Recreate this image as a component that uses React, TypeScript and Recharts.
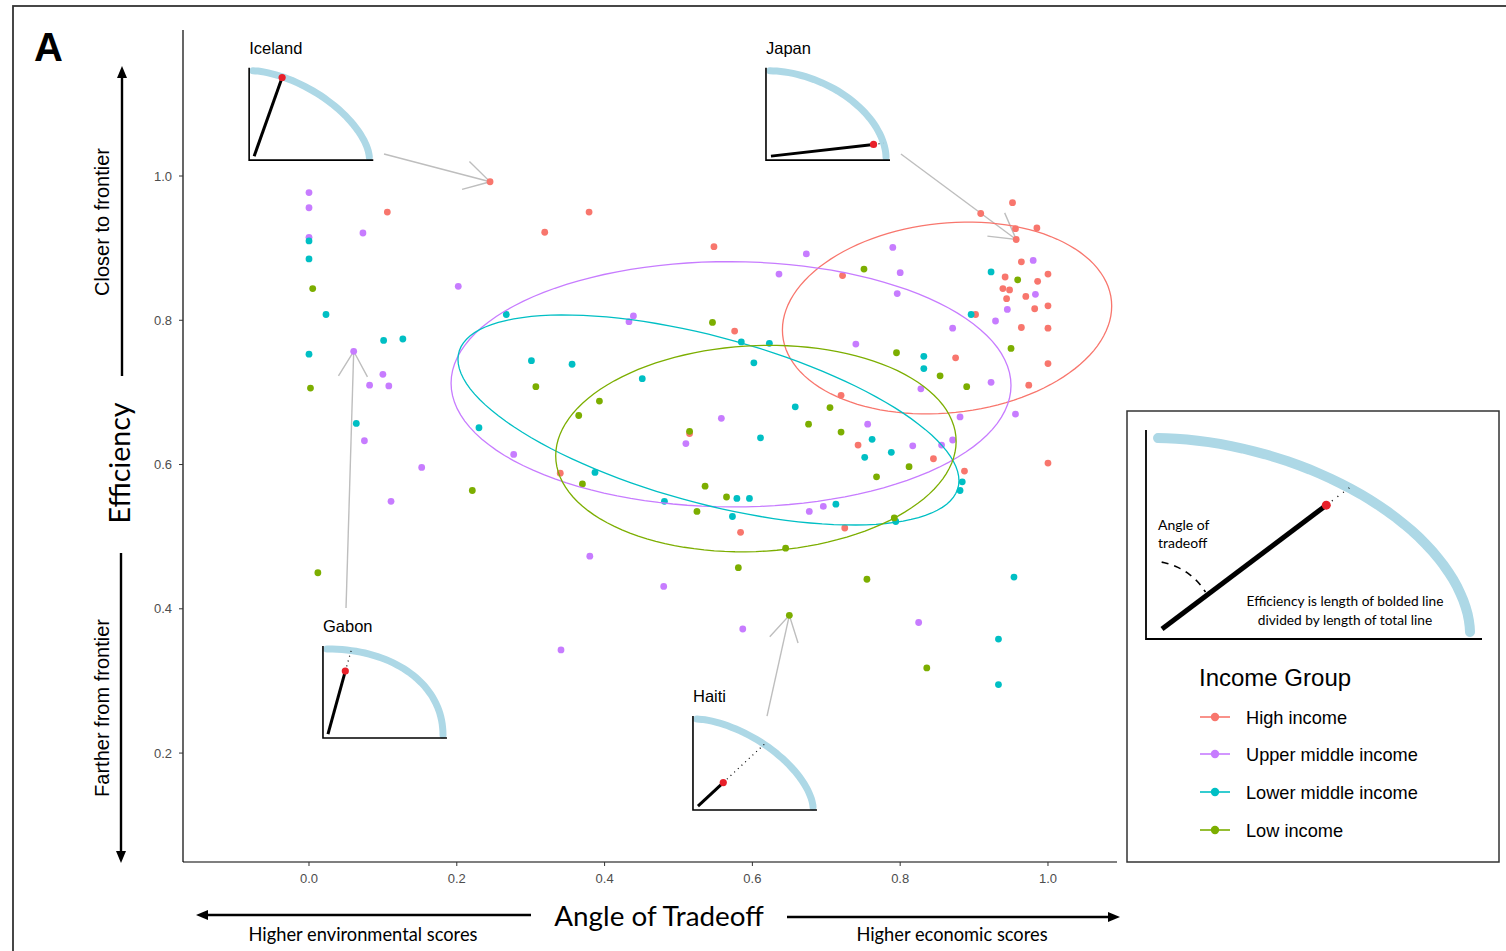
import React from "react";
import {
  ScatterChart,
  Scatter,
  XAxis,
  YAxis,
  ReferenceLine,
  ReferenceArea,
} from "recharts";

const GROUPS = ["High income", "Upper middle income", "Lower middle income", "Low income"];
const COLORS = ["#F8766D", "#C77CFF", "#00BFC4", "#7CAE00"];

const X_TICKS = [0, 0.2, 0.4, 0.6, 0.8, 1.0];
const Y_TICKS = [0.2, 0.4, 0.6, 0.8, 1.0];
const X_DOMAIN = [-0.1705, 1.0934];
const Y_DOMAIN = [0.049, 1.2024];
const ELLIPSE_LEVEL = 0.5;

type Pt = [number, number];

// highlighted countries
const ICELAND: Pt = [0.245, 0.992];
const JAPAN: Pt = [0.957, 0.912];
const GABON: Pt = [0.0605, 0.757];
const HAITI: Pt = [0.65, 0.391];

const highIncome: Pt[] = [
  [0.106, 0.95], ICELAND, [0.319, 0.922], [0.379, 0.95], [0.548, 0.902], [0.576, 0.785],
  [0.34, 0.588], [0.515, 0.643], [0.584, 0.506], [0.722, 0.862], [0.952, 0.963], [0.909, 0.948],
  [0.956, 0.927], [0.985, 0.928], JAPAN, [0.964, 0.881], [0.942, 0.86], [0.986, 0.854],
  [1.0, 0.864], [0.939, 0.844], [0.948, 0.842], [0.944, 0.83], [0.97, 0.833], [1.0, 0.82],
  [0.982, 0.816], [0.902, 0.808], [0.964, 0.79], [1.0, 0.789], [0.875, 0.748], [1.0, 0.74],
  [0.974, 0.71], [0.72, 0.696], [0.743, 0.627], [0.845, 0.608], [0.887, 0.591], [1.0, 0.602],
  [0.725, 0.512],
];

const upperMiddle: Pt[] = [
  [0.0, 0.977], [0.0, 0.956], [0.0, 0.915], [0.073, 0.921], [0.202, 0.847], GABON,
  [0.1, 0.725], [0.082, 0.71], [0.108, 0.709], [0.075, 0.633], [0.1525, 0.596], [0.111, 0.549],
  [0.277, 0.614], [0.439, 0.806], [0.433, 0.798], [0.636, 0.864], [0.558, 0.664], [0.51, 0.629],
  [0.38, 0.473], [0.48, 0.431], [0.341, 0.343], [0.587, 0.372], [0.673, 0.892], [0.79, 0.901],
  [0.8, 0.866], [0.796, 0.837], [0.98, 0.883], [0.983, 0.836], [0.945, 0.815], [0.929, 0.799],
  [0.871, 0.789], [0.74, 0.767], [0.923, 0.714], [0.828, 0.705], [0.881, 0.666], [0.956, 0.67],
  [0.756, 0.656], [0.817, 0.626], [0.856, 0.627], [0.871, 0.634], [0.677, 0.535], [0.696, 0.542],
  [0.825, 0.381],
];

const lowerMiddle: Pt[] = [
  [0.0, 0.91], [0.0, 0.885], [0.023, 0.808], [0.267, 0.808], [0.101, 0.772], [0.127, 0.774],
  [0.0, 0.753], [0.301, 0.744], [0.064, 0.657], [0.23, 0.651], [0.356, 0.739], [0.585, 0.77],
  [0.623, 0.768], [0.602, 0.741], [0.451, 0.719], [0.611, 0.637], [0.387, 0.589], [0.481, 0.549],
  [0.579, 0.553], [0.596, 0.553], [0.573, 0.528], [0.923, 0.867], [0.896, 0.808], [0.832, 0.75],
  [0.832, 0.733], [0.658, 0.68], [0.762, 0.635], [0.752, 0.61], [0.788, 0.617], [0.884, 0.576],
  [0.881, 0.564], [0.713, 0.545], [0.794, 0.521], [0.954, 0.444], [0.933, 0.358], [0.933, 0.295],
];

const lowIncome: Pt[] = [
  [0.005, 0.844], [0.002, 0.706], [0.012, 0.45], [0.221, 0.564], [0.307, 0.708], [0.546, 0.797],
  [0.393, 0.688], [0.365, 0.668], [0.515, 0.646], [0.37, 0.573], [0.536, 0.57], [0.565, 0.555],
  [0.525, 0.535], [0.645, 0.484], [0.581, 0.457], HAITI, [0.751, 0.871], [0.959, 0.856],
  [0.95, 0.761], [0.795, 0.755], [0.854, 0.723], [0.89, 0.708], [0.705, 0.679], [0.676, 0.656],
  [0.72, 0.645], [0.812, 0.597], [0.768, 0.583], [0.792, 0.526], [0.755, 0.441], [0.836, 0.318],
];

const SERIES = [highIncome, upperMiddle, lowerMiddle, lowIncome];

// inset pictures, placed in data units like annotation_custom
const INSETS = [
  { name: "Iceland", point: ICELAND, box: [-0.081, 0.087, 1.022, 1.15], from: [0.1015, 1.0305], angle: 20, n: 1.6 },
  { name: "Japan", point: JAPAN, box: [0.6184, 0.7862, 1.022, 1.15], from: [0.801, 1.0305], angle: 83, n: 1.8 },
  { name: "Gabon", point: GABON, box: [0.0189, 0.1867, 0.2208, 0.3484], from: [0.0501, 0.401], angle: 16, n: 2.1 },
  { name: "Haiti", point: HAITI, box: [0.5196, 0.6874, 0.121, 0.2513], from: [0.6198, 0.2513], angle: 47, n: 1.6 },
];

const ARIAL = "'Liberation Sans', Arial, sans-serif";
const CALIBRI = "Lato, 'Open Sans', sans-serif";

// MASS::cov.trob (nu = 5), as used by stat_ellipse(type = "t")
function covTrob(pts: Pt[]) {
  const n = pts.length;
  const nu = 5;
  const p = 2;
  let loc = [
    pts.reduce((s, q) => s + q[0], 0) / n,
    pts.reduce((s, q) => s + q[1], 0) / n,
  ];
  let w = pts.map(() => 1);
  let X = pts.map((q) => [q[0] - loc[0], q[1] - loc[1]]);
  for (let it = 0; it < 200; it++) {
    const w0 = w.slice();
    X = pts.map((q) => [q[0] - loc[0], q[1] - loc[1]]);
    const sw = w.reduce((s, v) => s + v, 0);
    let a = 0, b = 0, c = 0;
    X.forEach((d, i) => {
      a += w[i] * d[0] * d[0];
      b += w[i] * d[0] * d[1];
      c += w[i] * d[1] * d[1];
    });
    const s11 = a / sw, s12 = b / sw, s22 = c / sw;
    const det = s11 * s22 - s12 * s12;
    w = X.map((d) => {
      const q = (s22 * d[0] * d[0] - 2 * s12 * d[0] * d[1] + s11 * d[1] * d[1]) / det;
      return (nu + p) / (nu + q);
    });
    const sw2 = w.reduce((s, v) => s + v, 0);
    loc = [
      pts.reduce((s, q, i) => s + w[i] * q[0], 0) / sw2,
      pts.reduce((s, q, i) => s + w[i] * q[1], 0) / sw2,
    ];
    if (w.every((v, i) => Math.abs(v - w0[i]) < 1e-4)) break;
  }
  let a = 0, b = 0, c = 0;
  X.forEach((d, i) => {
    a += w[i] * d[0] * d[0];
    b += w[i] * d[0] * d[1];
    c += w[i] * d[1] * d[1];
  });
  return { loc, cov: [a / n, b / n, c / n] };
}

function ellipseOf(pts: Pt[], level = ELLIPSE_LEVEL, segments = 120) {
  const { loc, cov } = covTrob(pts);
  const d = pts.length - 1;
  const qf = (d / 2) * (Math.pow(1 - level, -2 / d) - 1); // qf(level, 2, d)
  const radius = Math.sqrt(2 * qf);
  const r11 = Math.sqrt(cov[0]);
  const r12 = cov[1] / r11;
  const r22 = Math.sqrt(cov[2] - r12 * r12);
  const out: { x: number; y: number }[] = [];
  for (let i = 0; i <= segments; i++) {
    const t = (i / segments) * 2 * Math.PI;
    const ct = Math.cos(t), st = Math.sin(t);
    out.push({ x: loc[0] + radius * ct * r11, y: loc[1] + radius * (ct * r12 + st * r22) });
  }
  return out;
}

// hand-drawn style frontier curve (superellipse quadrant)
function frontierPath(ox: number, oy: number, a: number, b: number, n: number) {
  const pts: string[] = [];
  for (let i = 0; i <= 40; i++) {
    const t = (i / 40) * (Math.PI / 2);
    const x = ox + a * Math.pow(Math.sin(t), 2 / n);
    const y = oy - b * Math.pow(Math.cos(t), 2 / n);
    pts.push(`${x.toFixed(1)},${y.toFixed(1)}`);
  }
  return "M" + pts.join(" L");
}

function frontierRadius(a: number, b: number, n: number, alpha: number) {
  return 1 / Math.pow(Math.pow(Math.sin(alpha) / a, n) + Math.pow(Math.cos(alpha) / b, n), 1 / n);
}

function insetShape(inset: (typeof INSETS)[number]) {
  return (props: any) => {
    const { x, y, width: w, height: h } = props;
    const ox = x + 4, oy = y + h - 3, a = w - 8, b = h - 6;
    const alpha = (inset.angle * Math.PI) / 180;
    const r = frontierRadius(a, b, inset.n, alpha);
    const eff = inset.point[1];
    const dx = Math.sin(alpha), dy = -Math.cos(alpha);
    const px = ox + dx * r * eff, py = oy + dy * r * eff;
    return (
      <g>
        <text x={x} y={y - 14} fontSize={16.5} fontFamily={ARIAL} fill="#000">
          {inset.name}
        </text>
        <path d={frontierPath(ox, oy, a, b, inset.n)} stroke="#ADD8E6" strokeWidth={7} fill="none" strokeLinecap="round" />
        <path d={`M${x} ${y} V${y + h} H${x + w}`} stroke="#000" strokeWidth={1.6} fill="none" />
        <line x1={px} y1={py} x2={ox + dx * r} y2={oy + dy * r} stroke="#000" strokeWidth={1.2} strokeDasharray="1 4" />
        <line x1={ox + 1} y1={oy - 1} x2={px} y2={py} stroke="#000" strokeWidth={3} />
        <circle cx={px} cy={py} r={3.6} fill="#E8202A" />
      </g>
    );
  };
}

const arrowShape = (p: any) => {
  const { x1, y1, x2, y2 } = p;
  const back = Math.atan2(y1 - y2, x1 - x2);
  const L = 29;
  const s = Math.PI / 6;
  const h1 = `${x2 + L * Math.cos(back + s)},${y2 + L * Math.sin(back + s)}`;
  const h2 = `${x2 + L * Math.cos(back - s)},${y2 + L * Math.sin(back - s)}`;
  return (
    <g stroke="#BEBEBE" strokeWidth={1.4} fill="none">
      <line x1={x1} y1={y1} x2={x2} y2={y2} />
      <polyline points={`${h1} ${x2},${y2} ${h2}`} />
    </g>
  );
};

function Arrow({ x1, y1, x2, y2 }: { x1: number; y1: number; x2: number; y2: number }) {
  const ang = Math.atan2(y2 - y1, x2 - x1);
  const L = 12, W = 5;
  const bx = x2 - L * Math.cos(ang), by = y2 - L * Math.sin(ang);
  const nx = -Math.sin(ang) * W, ny = Math.cos(ang) * W;
  return (
    <g>
      <line x1={x1} y1={y1} x2={bx} y2={by} stroke="#000" strokeWidth={2.4} />
      <polygon points={`${x2},${y2} ${bx + nx},${by + ny} ${bx - nx},${by - ny}`} fill="#000" />
    </g>
  );
}

function LegendPanel() {
  const ox = 1158, oy = 632, a = 312, b = 194, n = 1.8;
  const alpha = (53 * Math.PI) / 180;
  const r = frontierRadius(a, b, n, alpha);
  const eff = 0.88;
  const dx = Math.sin(alpha), dy = -Math.cos(alpha);
  const px = ox + dx * r * eff, py = oy + dy * r * eff;
  const arc: string[] = [];
  for (let i = 0; i <= 20; i++) {
    const t = ((3 + (47 * i) / 20) * Math.PI) / 180;
    const rr = 70 - (8 * i) / 20;
    arc.push(`${ox + rr * Math.sin(t)},${oy - rr * Math.cos(t)}`);
  }
  const rows = [717, 754, 792, 830];
  return (
    <g>
      <rect x={1127} y={411} width={372} height={451} fill="#fff" stroke="#333" strokeWidth={1.5} />
      <path d={frontierPath(ox, oy, a, b, n)} stroke="#ADD8E6" strokeWidth={10} fill="none" strokeLinecap="round" />
      <path d="M1146 430 V639 H1482" stroke="#000" strokeWidth={1.8} fill="none" />
      <line x1={px} y1={py} x2={ox + dx * r} y2={oy + dy * r} stroke="#000" strokeWidth={1.4} strokeDasharray="1 6" />
      <line x1={ox + 4} y1={oy - 3} x2={px} y2={py} stroke="#000" strokeWidth={5} />
      <circle cx={px} cy={py} r={4.5} fill="#E8202A" />
      <path d={"M" + arc.join(" L")} stroke="#000" strokeWidth={1.6} fill="none" strokeDasharray="7 6" />
      <g fontFamily={CALIBRI} fontSize={14} fill="#000">
        <text x={1158} y={530}>Angle of</text>
        <text x={1158} y={548}>tradeoff</text>
        <text x={1345} y={606} textAnchor="middle" fontSize={13.7}>Efficiency is length of bolded line</text>
        <text x={1345} y={625} textAnchor="middle" fontSize={13.7}>divided by length of total line</text>
      </g>
      <text x={1199} y={686} fontFamily={ARIAL} fontSize={24} fill="#000">
        Income Group
      </text>
      {GROUPS.map((g, i) => (
        <g key={g}>
          <line x1={1200} y1={rows[i]} x2={1230} y2={rows[i]} stroke={COLORS[i]} strokeWidth={1.6} />
          <circle cx={1215} cy={rows[i]} r={4.2} fill={COLORS[i]} />
          <text x={1246} y={rows[i] + 7} fontFamily={ARIAL} fontSize={18.2} fill="#000">
            {g}
          </text>
        </g>
      ))}
    </g>
  );
}

function Overlay() {
  return (
    <svg
      width={1506}
      height={951}
      style={{ position: "absolute", left: 0, top: 0, pointerEvents: "none" }}
    >
      <rect x={13} y={6} width={1510} height={1000} fill="none" stroke="#333" strokeWidth={1.8} />
      <text x={34} y={61} fontFamily={ARIAL} fontWeight="bold" fontSize={40} fill="#000">
        A
      </text>
      <Arrow x1={122} y1={376} x2={122} y2={66} />
      <Arrow x1={121} y1={553} x2={121} y2={863} />
      <text transform="translate(109,222) rotate(-90)" textAnchor="middle" fontFamily={ARIAL} fontSize={20} fill="#000">
        Closer to frontier
      </text>
      <text transform="translate(109,708) rotate(-90)" textAnchor="middle" fontFamily={ARIAL} fontSize={20} fill="#000">
        Farther from frontier
      </text>
      <text transform="translate(130,463) rotate(-90)" textAnchor="middle" fontFamily={CALIBRI} fontSize={28.5} fill="#000">
        Efficiency
      </text>
      <Arrow x1={531} y1={915} x2={196} y2={915} />
      <Arrow x1={787} y1={917} x2={1120} y2={917} />
      <text x={659} y={926} textAnchor="middle" fontFamily={CALIBRI} fontSize={27.8} fill="#000">
        Angle of Tradeoff
      </text>
      <text x={363} y={941} textAnchor="middle" fontFamily={CALIBRI} fontSize={18.3} fill="#000">
        Higher environmental scores
      </text>
      <text x={952} y={941} textAnchor="middle" fontFamily={CALIBRI} fontSize={18.3} fill="#000">
        Higher economic scores
      </text>
      <LegendPanel />
    </svg>
  );
}

export default function App() {
  const ellipses = SERIES.map((s) => ellipseOf(s));
  const tickStyle = { fill: "#4D4D4D", fontSize: 13, fontFamily: ARIAL };
  return (
    <div style={{ position: "absolute", left: 0, top: 0, width: 1506, height: 951, background: "#fff" }}>
      <div style={{ position: "absolute", left: 0, top: 0 }}>
        <ScatterChart width={1506} height={951} margin={{ top: 30, right: 389, bottom: 59, left: 123 }}>
          <XAxis
            type="number"
            dataKey="x"
            domain={X_DOMAIN}
            allowDataOverflow
            ticks={X_TICKS}
            tickFormatter={(v: number) => v.toFixed(1)}
            height={30}
            axisLine={{ stroke: "#000", strokeWidth: 1.2 }}
            tickLine={{ stroke: "#333" }}
            tickSize={4}
            tickMargin={8}
            tick={tickStyle}
          />
          <YAxis
            type="number"
            dataKey="y"
            domain={Y_DOMAIN}
            allowDataOverflow
            ticks={Y_TICKS}
            tickFormatter={(v: number) => v.toFixed(1)}
            width={60}
            axisLine={{ stroke: "#000", strokeWidth: 1.2 }}
            tickLine={{ stroke: "#333" }}
            tickSize={4}
            tickMargin={7}
            tick={tickStyle}
          />
          {SERIES.map((s, i) => (
            <Scatter
              key={GROUPS[i]}
              name={GROUPS[i]}
              data={s.map(([x, y]) => ({ x, y }))}
              fill={COLORS[i]}
              isAnimationActive={false}
              shape={(p: any) => <circle cx={p.cx} cy={p.cy} r={3.4} fill={COLORS[i]} />}
            />
          ))}
          {ellipses.map((e, i) => (
            <Scatter
              key={"ell-" + GROUPS[i]}
              data={e}
              fill={COLORS[i]}
              line={{ stroke: COLORS[i], strokeWidth: 1.3 }}
              lineType="joint"
              legendType="none"
              isAnimationActive={false}
              shape={() => <g />}
            />
          ))}
          {INSETS.map((ins) => (
            <ReferenceArea
              key={"box-" + ins.name}
              x1={ins.box[0]}
              x2={ins.box[1]}
              y1={ins.box[2]}
              y2={ins.box[3]}
              ifOverflow="visible"
              shape={insetShape(ins)}
            />
          ))}
          {INSETS.map((ins) => (
            <ReferenceLine
              key={"arr-" + ins.name}
              segment={[
                { x: ins.from[0], y: ins.from[1] },
                { x: ins.point[0], y: ins.point[1] },
              ]}
              ifOverflow="visible"
              shape={arrowShape}
            />
          ))}
        </ScatterChart>
      </div>
      <Overlay />
    </div>
  );
}
